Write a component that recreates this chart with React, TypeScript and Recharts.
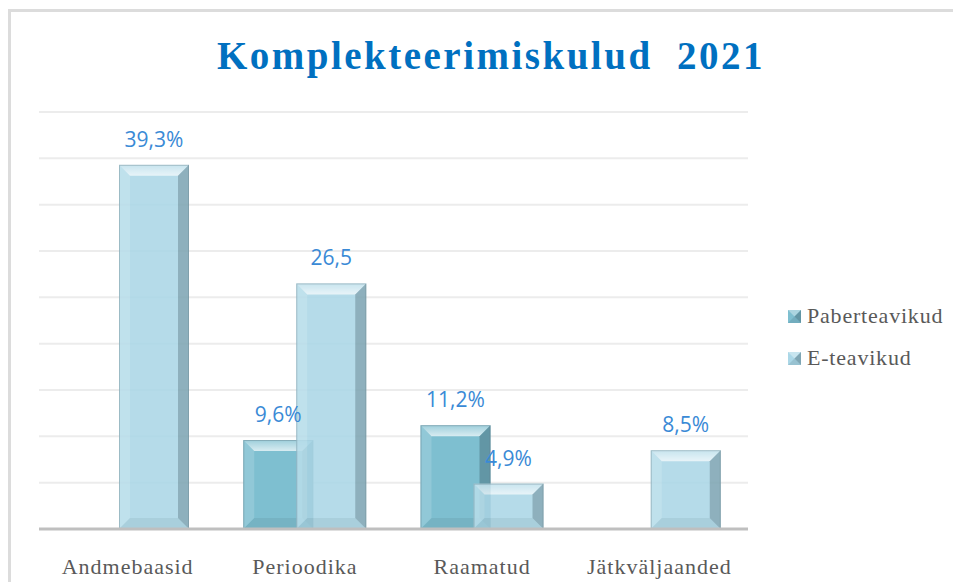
import { BarChart, Bar, XAxis, YAxis, CartesianGrid, LabelList } from "recharts";

const categories = ["Andmebaasid", "Perioodika", "Raamatud", "Jätkväljaanded"];
const seriesNames = ["Paberteavikud", "E-teavikud"];
const paberValues: (number | null)[] = [null, 9.6, 11.2, null];
const eValues: (number | null)[] = [39.3, 26.5, 4.9, 8.5];
const paberLabels = ["", "9,6%", "11,2%", ""];
const eLabels = ["39,3%", "26,5", "4,9%", "8,5%"];
const yTicks = [0, 5, 10, 15, 20, 25, 30, 35, 40, 45];

const data = categories.map((name, i) => ({
  name,
  paber: paberValues[i],
  e: eValues[i],
  paberLabel: paberLabels[i],
  eLabel: eLabels[i],
}));

const PABER = "#7ebfd0";
const ETEAV = "#abd7e7";
const SERIF = "'Liberation Serif', 'Times New Roman', serif";

function BevelBar(props: any) {
  const { x, y, width: w, height: h, fill, opacity } = props;
  if (!h || h <= 0 || w <= 0) return null;
  const b = Math.min(11, h / 2, w / 2);
  return (
    <g opacity={opacity ?? 1}>
      <rect x={x} y={y} width={w} height={h} fill={fill} />
      <polygon
        points={`${x},${y} ${x + w},${y} ${x + w - b},${y + b} ${x + b},${y + b}`}
        fill="url(#bevelTop)"
      />
      <polygon
        points={`${x},${y} ${x + b},${y + b} ${x + b},${y + h - b} ${x},${y + h}`}
        fill="#ffffff"
        fillOpacity={0.15}
      />
      <polygon
        points={`${x + w},${y} ${x + w},${y + h} ${x + w - b},${y + h - b} ${x + w - b},${y + b}`}
        fill="#2d4a55"
        fillOpacity={0.35}
      />
      <polygon
        points={`${x},${y + h} ${x + b},${y + h - b} ${x + w - b},${y + h - b} ${x + w},${y + h}`}
        fill="#2d4a55"
        fillOpacity={0.1}
      />
      <rect x={x + 0.5} y={y + 0.5} width={w - 1} height={h - 1} fill="none" stroke="#5f7f8a" strokeOpacity={0.45} />
    </g>
  );
}

function BarLabel(props: any) {
  const { x, y, width, value } = props;
  if (!value) return null;
  return (
    <text
      x={x + width / 2}
      y={y - 18}
      textAnchor="middle"
      fill="#3a8ad6"
      fontSize={21}
      fontFamily="'Open Sans', 'Noto Sans', sans-serif"
    >
      {value}
    </text>
  );
}

function CategoryTick(props: any) {
  const { x, y, payload } = props;
  return (
    <text
      x={x}
      y={y + 37}
      textAnchor="middle"
      fill="#595959"
      fontSize={22}
      fontFamily={SERIF}
      letterSpacing={1}
    >
      {payload.value}
    </text>
  );
}

function LegendMarker({ color }: { color: string }) {
  return (
    <svg width={13} height={13} style={{ display: "block" }}>
      <rect x={0} y={0} width={13} height={13} fill={color} />
      <polygon points="0,0 13,0 6.5,6.5" fill="#ffffff" fillOpacity={0.35} />
      <polygon points="13,0 13,13 6.5,6.5" fill="#2d4a55" fillOpacity={0.35} />
      <polygon points="0,13 13,13 6.5,6.5" fill="#2d4a55" fillOpacity={0.15} />
    </svg>
  );
}

export default function App() {
  const legendColors = [PABER, ETEAV];
  return (
    <div style={{ position: "relative", width: 953, height: 574, background: "#fff" }}>
      <div
        style={{
          position: "absolute",
          left: 0,
          top: 1,
          width: 960,
          height: 600,
          borderLeft: "3px solid #dcdcdc",
          borderTop: "3px solid #dcdcdc",
          boxSizing: "border-box",
        }}
      />
      <svg
        width={953}
        height={90}
        style={{ position: "absolute", left: 0, top: 0, pointerEvents: "none" }}
      >
        <text
          x={483}
          y={61}
          textAnchor="middle"
          fill="#0070c0"
          fontSize={39}
          fontWeight="bold"
          fontFamily={SERIF}
          letterSpacing={2.5}
        >
          {"Komplekteerimiskulud\u00A0 2021"}
        </text>
      </svg>
      <div style={{ position: "absolute", left: 0, top: 0 }}>
        <BarChart
          width={953}
          height={574}
          data={data}
          margin={{ top: 104, right: 213, left: 31, bottom: 23 }}
          barSize={70}
          barGap={-17}
        >
          <defs>
            <linearGradient id="bevelTop" x1="0" y1="0" x2="0" y2="1">
              <stop offset="0%" stopColor="#ffffff" stopOpacity={0.25} />
              <stop offset="100%" stopColor="#ffffff" stopOpacity={0.7} />
            </linearGradient>
          </defs>
          <CartesianGrid horizontal vertical={false} stroke="#ececec" strokeWidth={2} />
          <YAxis hide domain={[0, 45]} ticks={yTicks} />
          <XAxis
            dataKey="name"
            height={30}
            axisLine={{ stroke: "#bfbfbf", strokeWidth: 3 }}
            tickLine={false}
            tick={<CategoryTick />}
            interval={0}
          />
          <Bar
            dataKey="paber"
            name={seriesNames[0]}
            fill={PABER}
            shape={<BevelBar />}
            isAnimationActive={false}
          >
            <LabelList dataKey="paberLabel" content={<BarLabel />} />
          </Bar>
          <Bar
            dataKey="e"
            name={seriesNames[1]}
            fill={ETEAV}
            shape={<BevelBar opacity={0.88} />}
            isAnimationActive={false}
          >
            <LabelList dataKey="eLabel" content={<BarLabel />} />
          </Bar>
        </BarChart>
      </div>
      <div style={{ position: "absolute", left: 780, top: 287 }}>
        {seriesNames.map((n, i) => (
          <div
            key={n}
            style={{ display: "flex", alignItems: "center", height: 42 }}
          >
            <LegendMarker color={legendColors[i]} />
            <span
              style={{
                marginLeft: 6,
                fontFamily: SERIF,
                fontSize: 22,
                color: "#595959",
                letterSpacing: 0.8,
              }}
            >
              {n}
            </span>
          </div>
        ))}
      </div>
    </div>
  );
}
